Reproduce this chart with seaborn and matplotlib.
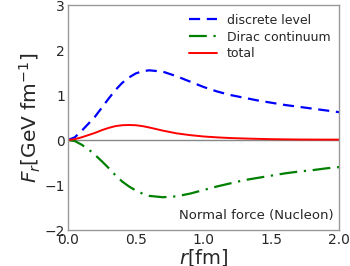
import numpy as np
import pandas as pd
import matplotlib
matplotlib.use("Agg")
import matplotlib.pyplot as plt
import seaborn as sns

r = [0.0, 0.05, 0.1, 0.15, 0.2, 0.25, 0.3, 0.35, 0.4, 0.45, 0.5, 0.55, 0.6, 0.7, 0.8, 0.9, 1.0,
     1.1, 1.2, 1.3, 1.4, 1.5, 1.6, 1.7, 1.8, 1.9, 2.0]
discrete = [0.0, 0.06, 0.2, 0.36, 0.52, 0.72, 0.92, 1.11, 1.27, 1.39, 1.48, 1.53, 1.55, 1.52, 1.42, 1.3, 1.18,
            1.08, 1.0, 0.94, 0.88, 0.83, 0.78, 0.74, 0.70, 0.66, 0.62]
dirac = [0.0, -0.02, -0.1, -0.2, -0.33, -0.47, -0.62, -0.78, -0.92, -1.03, -1.12, -1.19, -1.24, -1.27, -1.25, -1.19, -1.11,
         -1.03, -0.96, -0.89, -0.84, -0.79, -0.74, -0.70, -0.67, -0.63, -0.6]
total = [0.0, 0.02, 0.06, 0.11, 0.16, 0.22, 0.27, 0.31, 0.33, 0.335, 0.33, 0.31, 0.28, 0.21, 0.15, 0.11, 0.08,
         0.06, 0.045, 0.035, 0.027, 0.02, 0.016, 0.013, 0.011, 0.01, 0.01]

df = pd.DataFrame({"r": r, "discrete level": discrete,
                   "Dirac continuum": dirac, "total": total})

sns.set_style("white")
plt.rcParams['font.family'] = ['DejaVu Sans']

fig = plt.figure(figsize=(3.5, 2.66), dpi=100)
ax = fig.add_axes([0.194, 0.135, 0.775, 0.846])

ax.axhline(0, color="#888888", lw=1.0, zorder=1)
sns.lineplot(data=df, x="r", y="discrete level", ax=ax, color="blue",
             lw=1.6, linestyle=(0, (5, 3)), label="discrete level")
sns.lineplot(data=df, x="r", y="Dirac continuum", ax=ax, color="green",
             lw=1.6, linestyle=(0, (8, 3, 1, 3)), label="Dirac continuum")
sns.lineplot(data=df, x="r", y="total", ax=ax, color="red",
             lw=1.4, label="total")

ax.set_xlim(0, 2)
ax.set_ylim(-2, 3)
ax.set_xticks([0.0, 0.5, 1.0, 1.5, 2.0])
ax.set_xticklabels(["0.0", "0.5", "1.0", "1.5", "2.0"])
ax.set_yticks([-2, -1, 0, 1, 2, 3])
ax.set_yticklabels(["\u22122", "\u22121", "0", "1", "2", "3"])
ax.tick_params(labelsize=10, length=0, pad=2)
ax.set_xlabel("$r$[fm]", fontsize=14, labelpad=0)
ax.set_ylabel("$F_r$[GeV fm$^{-1}$]", fontsize=14.5, labelpad=1)
for s in ax.spines.values():
    s.set_color("#999999")
    s.set_linewidth(1.0)

ax.legend(loc="upper right", frameon=False, fontsize=9, handlelength=2.2,
          borderaxespad=0.3, labelspacing=0.3)
ax.text(0.978, 0.035, "Normal force (Nucleon)", transform=ax.transAxes,
        ha="right", va="bottom", fontsize=9.5)

fig.savefig("out.png", dpi=100)
